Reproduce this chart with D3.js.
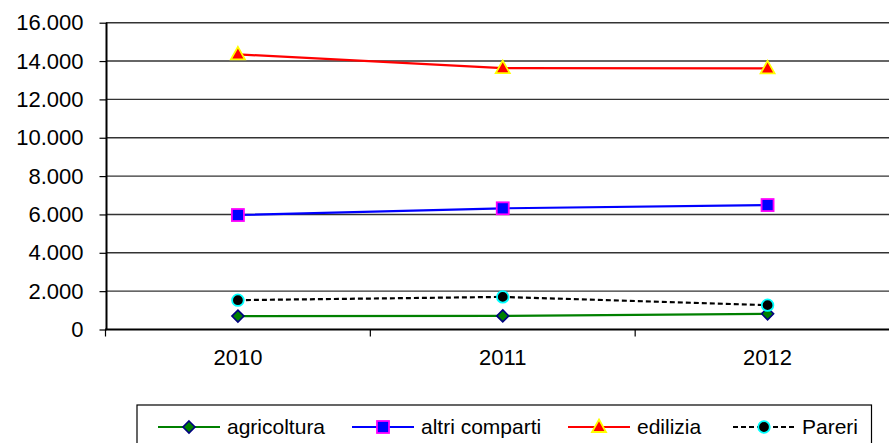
<!DOCTYPE html>
<html>
<head>
<meta charset="utf-8">
<script src="https://cdn.jsdelivr.net/npm/d3@7"></script>
<style>
  html, body { margin: 0; padding: 0; background: #fff; }
  svg { display: block; font-family: "Liberation Sans", Arial, sans-serif; }
</style>
</head>
<body>
<svg id="chart" width="889" height="443"></svg>
<script>
const years = ["2010", "2011", "2012"];
const agricoltura = [700, 710, 820];
const altriComparti = [5970, 6320, 6490];
const edilizia = [14350, 13630, 13620];
const pareri = [1530, 1700, 1270];
const yTicks = [0, 2000, 4000, 6000, 8000, 10000, 12000, 14000, 16000];
const seriesNames = ["agricoltura", "altri comparti", "edilizia", "Pareri"];

const series = [
  { name: seriesNames[0], values: agricoltura, line: "#008000", fill: "#008000", stroke: "#000080", marker: "diamond", dash: null },
  { name: seriesNames[1], values: altriComparti, line: "#0000FF", fill: "#0000FF", stroke: "#FF00FF", marker: "square", dash: null },
  { name: seriesNames[2], values: edilizia, line: "#FF0000", fill: "#FF0000", stroke: "#FFFF00", marker: "triangle", dash: null },
  { name: seriesNames[3], values: pareri, line: "#000000", fill: "#000000", stroke: "#00FFFF", marker: "circle", dash: "5,3" }
];

const locale = d3.formatLocale({ decimal: ",", thousands: ".", grouping: [3], currency: ["", " €"] });
const fmt = locale.format(",d");

const svg = d3.select("#chart");
const x = d3.scaleBand().domain(years).range([105.5, 900]).padding(0);
const y = d3.scaleLinear().domain([0, 16000]).range([329.5, 22.7]);

// gridlines
svg.append("g").selectAll("line").data(yTicks.filter(d => d > 0)).join("line")
  .attr("x1", 106).attr("x2", 889)
  .attr("y1", d => y(d)).attr("y2", d => y(d))
  .attr("stroke", "#333").attr("stroke-width", 1.4);

// y axis
const yAxis = d3.axisLeft(y).tickValues(yTicks).tickFormat(fmt).tickSize(7).tickPadding(16);
const gy = svg.append("g").attr("transform", "translate(106.5,0)").call(yAxis);
gy.select(".domain").attr("stroke", "#000").attr("stroke-width", 2).attr("d", `M0,${y(16000)}V${y(0)}`);
gy.selectAll(".tick line").attr("stroke", "#000").attr("stroke-width", 1.2);
gy.selectAll("text").attr("font-size", 22).attr("fill", "#000").attr("font-family", "Liberation Sans, Arial, sans-serif");

// x axis
const xAxis = d3.axisBottom(x).tickSize(0).tickPadding(20);
const gx = svg.append("g").attr("transform", `translate(0,${y(0)})`).call(xAxis);
gx.select(".domain").attr("stroke", "#000").attr("stroke-width", 2.2).attr("d", `M105,0H889`);
gx.selectAll("text").attr("font-size", 22).attr("fill", "#000").attr("font-family", "Liberation Sans, Arial, sans-serif");
// band boundary ticks
svg.append("g").selectAll("line").data(years).join("line")
  .attr("x1", d => x(d)).attr("x2", d => x(d))
  .attr("y1", y(0)).attr("y2", y(0) + 7)
  .attr("stroke", "#000").attr("stroke-width", 1.2);

const cx = d => x(d) + x.bandwidth() / 2;

function drawMarker(g, type, fill, stroke) {
  if (type === "diamond") {
    g.append("path").attr("d", "M0,-6L6,0L0,6L-6,0Z").attr("fill", fill).attr("stroke", stroke).attr("stroke-width", 1.6);
  } else if (type === "square") {
    g.append("rect").attr("x", -6).attr("y", -6).attr("width", 12).attr("height", 12).attr("fill", fill).attr("stroke", stroke).attr("stroke-width", 1.8);
  } else if (type === "triangle") {
    g.append("path").attr("d", "M0,-7.5L7,5L-7,5Z").attr("fill", fill).attr("stroke", stroke).attr("stroke-width", 1.8).attr("stroke-linejoin", "miter");
  } else if (type === "circle") {
    g.append("circle").attr("r", 5.8).attr("fill", fill).attr("stroke", stroke).attr("stroke-width", 1.8);
  }
}

const line = d3.line().x((d, i) => cx(years[i])).y(d => y(d));

series.forEach(s => {
  svg.append("path").datum(s.values).attr("d", line)
    .attr("fill", "none").attr("stroke", s.line).attr("stroke-width", 2.2)
    .attr("stroke-dasharray", s.dash);
});
series.forEach(s => {
  s.values.forEach((v, i) => {
    const g = svg.append("g").attr("transform", `translate(${cx(years[i])},${y(v)})`);
    drawMarker(g, s.marker, s.fill, s.stroke);
  });
});

// legend
svg.append("rect").attr("x", 137).attr("y", 405).attr("width", 734.5).attr("height", 60)
  .attr("fill", "#fff").attr("stroke", "#000").attr("stroke-width", 1.2);
const legendX = [158, 352, 568, 733];
const ly = 427;
series.forEach((s, i) => {
  const lx = legendX[i];
  svg.append("line").attr("x1", lx).attr("x2", lx + 62).attr("y1", ly).attr("y2", ly)
    .attr("stroke", s.line).attr("stroke-width", 2).attr("stroke-dasharray", s.dash);
  const g = svg.append("g").attr("transform", `translate(${lx + 31},${ly})`);
  drawMarker(g, s.marker, s.fill, s.stroke);
  svg.append("text").attr("x", lx + 69).attr("y", ly + 7).attr("font-size", 21).attr("fill", "#000")
    .text(s.name);
});
</script>
</body>
</html>
